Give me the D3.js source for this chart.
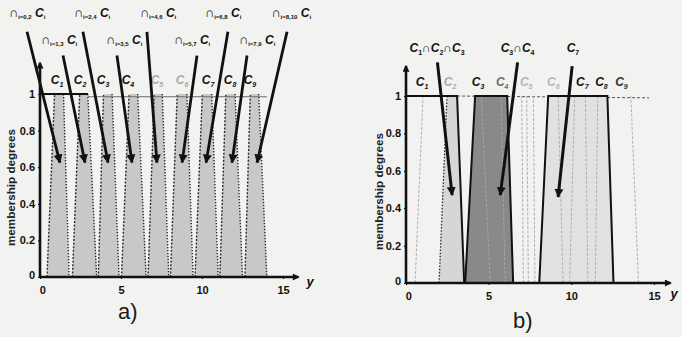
<!DOCTYPE html>
<html>
<head>
<meta charset="utf-8">
<script src="https://cdn.jsdelivr.net/npm/d3@7"></script>
<style>
  body { margin: 0; background: #f2f2f0; }
  svg { display: block; }
  text { font-family: "Liberation Sans", Arial, sans-serif; }
</style>
</head>
<body>
<svg id="chart" width="682" height="337"></svg>
<script>
const xTicks = [0, 5, 10, 15];
const yTicks = [0, 0.2, 0.4, 0.6, 0.8, 1];
const classNames = ['1', '2', '3', '4', '5', '6', '7', '8', '9'];

// panel a) : the nine classes as trapezoids [foot, shoulder, shoulder, foot]
const aSets = [
  [0.43, 0.9, 1.45, 1.8],
  [2.0, 2.45, 2.95, 3.5],
  [3.6, 3.92, 4.45, 4.88],
  [5.03, 5.5, 6.03, 6.55],
  [6.67, 7.05, 7.55, 7.95],
  [8.05, 8.47, 9.07, 9.45],
  [9.57, 10.02, 10.6, 11.0],
  [11.1, 11.47, 12.04, 12.5],
  [12.65, 12.98, 13.5, 14.0]
];
const aClassLabelX = [1.05, 2.47, 3.89, 5.43, 7.22, 8.77, 10.37, 11.73, 12.96];
const aCutSubs = ['i=0,2', 'i=1,3', 'i=2,4', 'i=3,5', 'i=4,6', 'i=5,7', 'i=6,8', 'i=7,9', 'i=8,10'];
const aCutLabelX = [-0.8, 1.17, 3.21, 5.19, 7.28, 9.38, 11.3, 13.4, 15.5];
const aCutTailX = [-0.8, 1.42, 2.65, 4.75, 6.6, 9.69, 11.6, 12.78, 15.25];
const aCutTipX = [1.23, 2.78, 4.2, 5.68, 7.22, 8.77, 10.25, 11.85, 13.4];
const aCutTipY = 0.625;

// panel b) : shaded intersections and the class outlines
const bLightSet = [2.0, 2.48, 3.09, 3.52];
const bDarkSet = [3.58, 4.18, 6.12, 6.48];
const bC7Set = [8.06, 8.6, 12.18, 12.55];
const bFaintEdges = [[0.55, 1.03], [5.1, 4.55], [6.0, 5.75], [7.1, 7.0], [7.4, 7.3], [7.8, 7.7],
                     [9.5, 9.2], [9.9, 10.2], [11.0, 10.85], [11.45, 11.6], [14.06, 13.6]];
const bClassLabelX = [0.97, 2.67, 4.36, 5.82, 7.27, 8.91, 10.67, 11.82, 13.03];
const bAnnotations = [
  { parts: [['C', '1'], ['C', '2'], ['C', '3']], labelX: 1.88, tail: [1.9, 1.18], tip: [2.79, 0.47] },
  { parts: [['C', '3'], ['C', '4']], labelX: 6.75, tail: [6.75, 1.18], tip: [5.7, 0.47] },
  { parts: [['C', '7']], labelX: 10.1, tail: [10.05, 1.16], tip: [9.2, 0.46] }
];

const svg = d3.select('#chart');
const defs = svg.append('defs');
defs.append('marker').attr('id', 'head')
  .attr('viewBox', '0 0 10 10').attr('refX', 9).attr('refY', 5)
  .attr('markerWidth', 9).attr('markerHeight', 11)
  .attr('markerUnits', 'userSpaceOnUse').attr('orient', 'auto')
  .append('path').attr('d', 'M0,0L10,5L0,10z').attr('fill', '#111');
defs.append('marker').attr('id', 'axhead')
  .attr('viewBox', '0 0 10 10').attr('refX', 8).attr('refY', 5)
  .attr('markerWidth', 8).attr('markerHeight', 7)
  .attr('markerUnits', 'userSpaceOnUse').attr('orient', 'auto')
  .append('path').attr('d', 'M0,0L10,5L0,10z').attr('fill', '#111');

function makePanel(left, right, bottom, top) {
  const x = d3.scaleLinear().domain([0, 15]).range([left, right]);
  const y = d3.scaleLinear().domain([0, 1]).range([bottom, top]);
  const g = svg.append('g');
  const line = d3.line().x(d => x(d[0])).y(d => y(d[1]));
  return { x, y, g, line };
}

function trapPoints(s) {
  return [[s[0], 0], [s[1], 1], [s[2], 1], [s[3], 0]];
}

function drawAxes(p, xEnd, yEnd, captionX, captionY, caption, yLabelX, varDx, varDy) {
  const g = p.g.append('g');
  const xa = g.append('g').attr('transform', `translate(0,${p.y(0)})`)
    .call(d3.axisBottom(p.x).tickValues(xTicks).tickSize(2).tickPadding(7).tickSizeOuter(0));
  const ya = g.append('g').attr('transform', `translate(${p.x(0)},0)`)
    .call(d3.axisLeft(p.y).tickValues(yTicks).tickSize(2).tickPadding(3).tickSizeOuter(0)
      .tickFormat(d => d === 0 ? '0' : d === 1 ? '1' : d3.format('.1f')(d)));
  [xa, ya].forEach(a => {
    a.select('.domain').remove();
    a.selectAll('line').attr('stroke', '#111').attr('stroke-width', 1.2);
    a.selectAll('text').attr('font-size', 11).attr('font-weight', 'bold').attr('fill', '#111');
  });
  ya.selectAll('text').filter(d => d === 0).attr('dy', '0.1em');
  xa.selectAll('text').filter(d => d === 0).attr('dx', '0.2em');

  g.append('path').attr('d', p.line([[0, 0], [xEnd, 0]]))
    .attr('stroke', '#111').attr('stroke-width', 2.6).attr('fill', 'none')
    .attr('marker-end', 'url(#axhead)');
  g.append('path').attr('d', p.line([[0, 0], [0, yEnd]]))
    .attr('stroke', '#111').attr('stroke-width', 2.6).attr('fill', 'none')
    .attr('marker-end', 'url(#axhead)');

  g.append('text').attr('x', p.x(xEnd) + varDx).attr('y', p.y(0) + varDy)
    .attr('font-size', 13).attr('font-style', 'italic').attr('font-weight', 'bold')
    .attr('fill', '#111').text('y');

  g.append('text')
    .attr('transform', `translate(${yLabelX},${p.y(0.5) + 2}) rotate(-90)`)
    .attr('text-anchor', 'middle').attr('font-size', 10).attr('font-weight', 'bold')
    .attr('textLength', 117).attr('lengthAdjust', 'spacingAndGlyphs')
    .attr('fill', '#222').text('membership degrees');

  svg.append('text').attr('x', captionX).attr('y', captionY)
    .attr('font-family', '"Liberation Serif", "DejaVu Serif", serif')
    .attr('font-size', 22).attr('fill', '#1a1a1a').text(caption);
}

function classLabel(g, x, y, name, color) {
  const t = g.append('text').attr('x', x).attr('y', y)
    .attr('text-anchor', 'middle').attr('font-weight', 'bold').attr('font-style', 'italic')
    .attr('fill', color);
  t.append('tspan').attr('font-size', 12).text('C');
  t.append('tspan').attr('font-size', 7).attr('dy', 3).text(name);
}

// ---------- panel a ----------
const pa = makePanel(40, 283, 277, 94);

pa.g.selectAll('path.set').data(aSets).enter().append('path')
  .attr('class', 'set')
  .attr('d', d => pa.line(trapPoints(d)))
  .attr('fill', '#c6c9c5').attr('stroke', 'none');

pa.g.selectAll('path.ledge').data(aSets).enter().append('path')
  .attr('d', d => pa.line([[d[0], 0], [d[1], 1]]))
  .attr('fill', 'none').attr('stroke', '#2b2b2b').attr('stroke-width', 1.4)
  .attr('stroke-dasharray', '2,1.6');
pa.g.selectAll('path.redge').data(aSets).enter().append('path')
  .attr('d', d => pa.line([[d[2], 1], [d[3], 0]]))
  .attr('fill', 'none').attr('stroke', '#2b2b2b').attr('stroke-width', 1.4)
  .attr('stroke-dasharray', '1.4,1.6');

pa.g.append('path').attr('d', pa.line([[2.96, 0.985], [14.0, 0.985]]))
  .attr('stroke', '#6a6a6a').attr('stroke-width', 1).attr('fill', 'none');
pa.g.append('path').attr('d', pa.line([[0, 1], [2.96, 1]]))
  .attr('stroke', '#111').attr('stroke-width', 2).attr('fill', 'none');

drawAxes(pa, 15.95, 1.17, 118, 319, 'a)', 15, 8, 9);

aClassLabelX.forEach((lx, i) => {
  classLabel(pa.g, pa.x(lx), 84, classNames[i], (i === 4 || i === 5) ? '#a9aba8' : '#111');
});

aCutTipX.forEach((tx, i) => {
  const tailY = i % 2 === 0 ? 1.34 : 1.21;
  pa.g.append('path')
    .attr('d', pa.line([[aCutTailX[i], tailY], [tx, aCutTipY]]))
    .attr('stroke', '#111').attr('stroke-width', 2.8).attr('fill', 'none')
    .attr('marker-end', 'url(#head)');
  const t = pa.g.append('text')
    .attr('x', pa.x(aCutLabelX[i])).attr('y', i % 2 === 0 ? 17 : 44)
    .attr('text-anchor', 'middle').attr('fill', '#111').attr('font-weight', 'bold');
  t.append('tspan').attr('font-size', 13).text('∩');
  t.append('tspan').attr('font-size', 6).attr('dy', 2).text(aCutSubs[i]);
  t.append('tspan').attr('font-size', 12).attr('dy', -2).attr('font-style', 'italic').text(' C');
  t.append('tspan').attr('font-size', 6).attr('dy', 2).text('i');
});

// ---------- panel b ----------
const pb = makePanel(406, 654, 283, 96);

pb.g.append('path').attr('d', pb.line([[3.09, 1], [14.7, 0.99]]))
  .attr('stroke', '#555').attr('stroke-width', 1).attr('stroke-dasharray', '3,2').attr('fill', 'none');

[[bLightSet, '#d5d7d4'], [bDarkSet, '#888988'], [bC7Set, '#e1e2e0']].forEach(([s, c]) => {
  pb.g.append('path').attr('d', pb.line(trapPoints(s))).attr('fill', c).attr('stroke', 'none');
});

pb.g.selectAll('path.faint').data(bFaintEdges).enter().append('path')
  .attr('d', d => pb.line([[d[0], 0], [d[1], 1]]))
  .attr('fill', 'none').attr('stroke', '#a8aaa7').attr('stroke-width', 0.9)
  .attr('stroke-dasharray', '3,1.5');

pb.g.append('path').attr('d', pb.line([[bLightSet[0], 0], [bLightSet[1], 1]]))
  .attr('fill', 'none').attr('stroke', '#333').attr('stroke-width', 1.3).attr('stroke-dasharray', '1.6,1.6');
pb.g.append('path').attr('d', pb.line([[0, 1], [bLightSet[2], 1], [bLightSet[3], 0]]))
  .attr('fill', 'none').attr('stroke', '#111').attr('stroke-width', 2);
[bDarkSet, bC7Set].forEach(s => {
  pb.g.append('path').attr('d', pb.line(trapPoints(s)))
    .attr('fill', 'none').attr('stroke', '#111').attr('stroke-width', 2);
});

drawAxes(pb, 16.0, 1.16, 513, 328, 'b)', 383, 0, 15);

const bTone = ['#111', '#aaaaaa', '#111', '#6d6d6d', '#b5b5b5', '#b5b5b5', '#111', '#111', '#333'];
bClassLabelX.forEach((lx, i) => classLabel(pb.g, pb.x(lx), 86, classNames[i], bTone[i]));

bAnnotations.forEach(a => {
  pb.g.append('path').attr('d', pb.line([a.tail, a.tip]))
    .attr('stroke', '#111').attr('stroke-width', 3).attr('fill', 'none')
    .attr('marker-end', 'url(#head)');
  const t = pb.g.append('text').attr('x', pb.x(a.labelX)).attr('y', 52)
    .attr('text-anchor', 'middle').attr('fill', '#111').attr('font-weight', 'bold');
  a.parts.forEach((p, k) => {
    if (k > 0) t.append('tspan').attr('font-size', 12).attr('dy', -3).text('∩');
    t.append('tspan').attr('font-size', 12).attr('font-style', 'italic').attr('dy', k > 0 ? 0 : null).text(p[0]);
    t.append('tspan').attr('font-size', 7).attr('dy', 3).text(p[1]);
  });
});
</script>
</body>
</html>
